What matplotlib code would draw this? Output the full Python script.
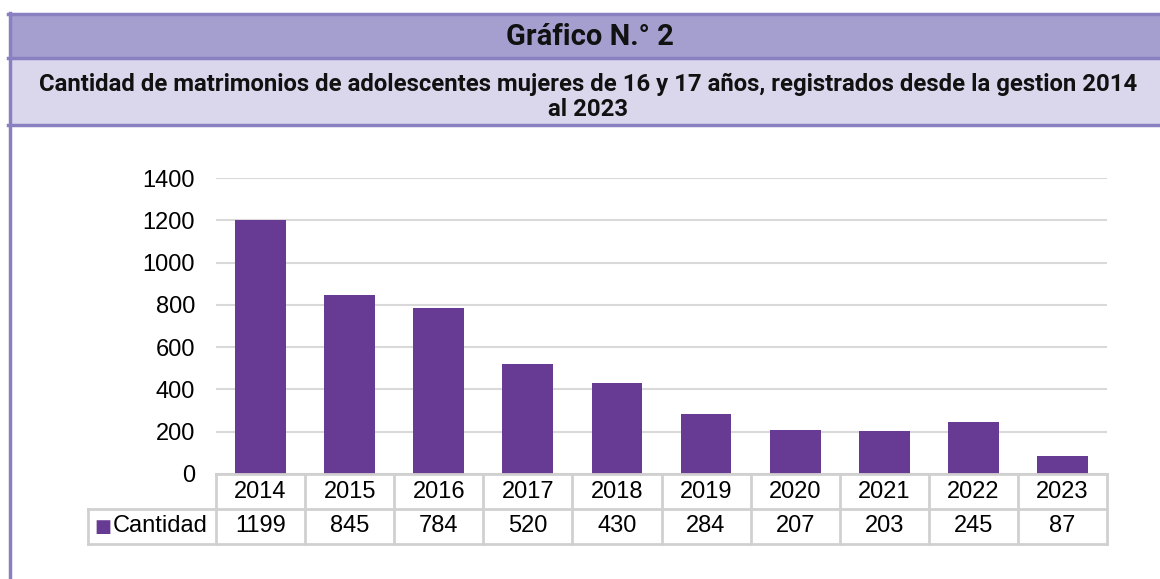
import matplotlib.pyplot as plt
from matplotlib.patches import Rectangle

years = ['2014', '2015', '2016', '2017', '2018', '2019', '2020', '2021', '2022', '2023']
cantidad = [1199, 845, 784, 520, 430, 284, 207, 203, 245, 87]
yticks = [0, 200, 400, 600, 800, 1000, 1200, 1400]

W, H = 1160, 579
bar_color = '#673a94'
grid_color = '#d9d9d9'
table_color = '#d0d0d0'
border_color = '#8880c0'

fig = plt.figure(figsize=(W / 100, H / 100), dpi=100)

def fx(px):
    return px / W

def fy(py):
    return 1 - py / H

# header bands
fig.patches.append(Rectangle((fx(10), fy(58)), fx(1160 - 10), fy(14) - fy(58),
                             transform=fig.transFigure, facecolor='#a59fd0', edgecolor='none'))
fig.patches.append(Rectangle((fx(10), fy(125)), fx(1160 - 10), fy(58) - fy(125),
                             transform=fig.transFigure, facecolor='#dad7ec', edgecolor='none'))
for yy in [14, 58, 125]:
    fig.add_artist(plt.Line2D([fx(8), 1], [fy(yy), fy(yy)], transform=fig.transFigure,
                              color=border_color, lw=2.5))
fig.add_artist(plt.Line2D([fx(9.5), fx(9.5)], [fy(13), 0], transform=fig.transFigure,
                          color=border_color, lw=2.5))

fig.text(fx(590), fy(37), 'Gráfico N.° 2', ha='center', va='center',
         family='Roboto', weight='bold', fontsize=21, color='#111111')
fig.text(fx(588), fy(97), 'Cantidad de matrimonios de adolescentes mujeres de 16 y 17 años, registrados desde la gestion 2014\nal 2023',
         ha='center', va='center', family='Roboto', weight='bold', fontsize=17.2,
         color='#111111', linespacing=1.1)

# bar chart
x0, x1, ytop, ybase = 216, 1107, 178, 474
ax = fig.add_axes([fx(x0), fy(ybase), fx(x1 - x0), fy(ytop) - fy(ybase)])
xs = list(range(len(years)))
ax.bar(xs, cantidad, width=0.57, color=bar_color, zorder=3)
ax.set_xlim(-0.5, len(years) - 0.5)
ax.set_ylim(0, 1400)
ax.set_yticks(yticks)
ax.set_yticklabels([str(v) for v in yticks], family='Liberation Sans', fontsize=17)
ax.tick_params(axis='y', length=0, pad=15)
ax.set_xticks([])
ax.grid(axis='y', color=grid_color, lw=1.5, zorder=0)
for s in ax.spines.values():
    s.set_visible(False)

# data table below
legend_w = (x0 - 88) / (x1 - x0) * len(years)
tax = fig.add_axes([fx(88), fy(544), fx(x1 - 88), fy(474) - fy(544)])
tax.set_xlim(-0.5 - legend_w, len(years) - 0.5)
tax.set_ylim(0, 2)
tax.axis('off')
right = len(years) - 0.5
tax.plot([-0.5, right], [2, 2], color=table_color, lw=2, clip_on=False)
tax.plot([-0.5 - legend_w, right], [1, 1], color=table_color, lw=2, clip_on=False)
tax.plot([-0.5 - legend_w, right], [0, 0], color=table_color, lw=2, clip_on=False)
tax.plot([-0.5 - legend_w, -0.5 - legend_w], [0, 1], color=table_color, lw=2, clip_on=False)
for i in range(len(years) + 1):
    tax.plot([i - 0.5, i - 0.5], [0, 2], color=table_color, lw=2, clip_on=False)
for i, (yr, v) in enumerate(zip(years, cantidad)):
    tax.text(i, 1.5, yr, ha='center', va='center', family='Liberation Sans', fontsize=17)
    tax.text(i, 0.5, str(v), ha='center', va='center', family='Liberation Sans', fontsize=17)
tax.text(-0.5 - legend_w + 0.07, 0.5, '■', ha='left', va='center', color=bar_color,
         family='DejaVu Sans', fontsize=13)
tax.text(-0.5 - legend_w + 0.28, 0.5, 'Cantidad', ha='left', va='center',
         family='Liberation Sans', fontsize=17)

fig.savefig('out.png', dpi=100)
